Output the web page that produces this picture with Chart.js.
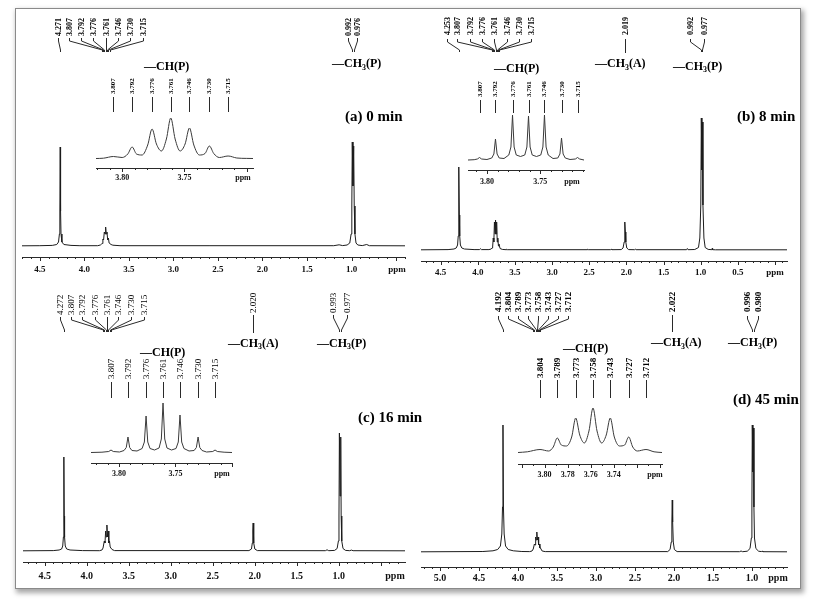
<!DOCTYPE html>
<html><head><meta charset="utf-8">
<script src="https://cdn.jsdelivr.net/npm/chart.js@4/dist/chart.umd.min.js"></script>
<style>
html,body{margin:0;padding:0;background:#fff;width:813px;height:602px;overflow:hidden}
#frame{position:absolute;left:15px;top:8px;width:784px;height:579px;border:1px solid #8a8a8a;box-shadow:2px 3px 5px 1px rgba(0,0,0,0.35);background:#fff}
canvas{position:absolute;left:0;top:0}
</style></head><body>
<div id="frame"></div>
<canvas id="mA" width="813" height="602"></canvas>
<canvas id="mB" width="813" height="602"></canvas>
<canvas id="mC" width="813" height="602"></canvas>
<canvas id="mD" width="813" height="602"></canvas>
<canvas id="iA" width="813" height="602"></canvas>
<canvas id="iB" width="813" height="602"></canvas>
<canvas id="iC" width="813" height="602"></canvas>
<canvas id="iD" width="813" height="602"></canvas>
<script>
// ================= DATA =================
const panelTitles = ['(a) 0 min', '(b) 8 min', '(c) 16 min', '(d) 45 min'];
const ch2Shift = [4.271, 4.253, 4.272, 4.192];
const chShiftsA = [3.807, 3.792, 3.776, 3.761, 3.746, 3.730, 3.715];
const chShiftsB = [3.807, 3.792, 3.776, 3.761, 3.746, 3.730, 3.715];
const chShiftsC = [3.807, 3.792, 3.776, 3.761, 3.746, 3.730, 3.715];
const chShiftsD = [3.804, 3.789, 3.773, 3.758, 3.743, 3.727, 3.712];
const acetoneShift = [null, 2.019, 2.020, 2.022];
const ch3ShiftsA = [0.992, 0.976];
const ch3ShiftsB = [0.992, 0.977];
const ch3ShiftsC = [0.993, 0.977];
const ch3ShiftsD = [0.996, 0.980];
const labelCH = [['—CH(P)', 0]];
const labelCH3A = [['—CH', 0], ['3', 1], ['(A)', 0]];
const labelCH3P = [['—CH', 0], ['3', 1], ['(P)', 0]];

// main spectra (ppm, intensity)
const specA_ppm = [4.70,4.50,4.36,4.31,4.29,4.28,4.275,4.271,4.267,4.262,4.252,4.23,4.15,4.05,3.85,3.82,3.807,3.800,3.792,3.784,3.776,3.768,3.761,3.754,3.746,3.738,3.730,3.722,3.715,3.70,3.68,3.60,2.60,1.20,1.14,1.10,1.05,1.02,1.005,0.997,0.992,0.984,0.976,0.970,0.962,0.95,0.93,0.88,0.83,0.80,0.40];
const specA_int = [0.2,0.3,0.6,1.5,4,12,35,99,35,12,4,1.5,0.6,0.3,0.3,1,2,2.5,7,6,14,12,19,12,14,6,8,3,3,1.5,0.8,0.3,0.3,0.3,1.2,0.4,1,3,12,40,104,60,100,40,12,3,1,0.4,1.5,0.3,0.2];

const specB_ppm = [4.764,4.40,4.32,4.29,4.272,4.263,4.258,4.253,4.248,4.243,4.234,4.215,4.18,4.05,3.975,3.965,3.95,3.85,3.82,3.807,3.800,3.792,3.784,3.776,3.768,3.761,3.754,3.746,3.738,3.730,3.722,3.715,3.70,3.67,3.62,3.61,3.60,2.53,2.52,2.51,2.215,2.205,2.195,2.07,2.045,2.030,2.024,2.019,2.014,2.008,1.995,1.97,1.89,1.88,1.87,1.19,1.18,1.17,1.08,1.03,1.012,0.999,0.992,0.984,0.977,0.970,0.957,0.94,0.90,0.85,0.845,0.84,0.80,-0.161];
const specB_int = [0.2,0.4,1,2,5,14,35,83,35,14,5,2,1,0.4,0.4,1.3,0.4,0.4,1,2,3,12,8,28,16,30,16,28,8,12,4,6,1.5,0.6,0.3,0.9,0.3,0.3,0.9,0.3,0.3,0.8,0.3,0.4,2,8,18,28,18,8,2,0.4,0.3,0.8,0.3,0.3,1.5,0.3,0.5,2.5,12,45,132,80,128,45,12,2.5,0.6,0.3,1.6,0.3,0.2,0.2];

const specC_ppm = [4.76,4.40,4.33,4.30,4.287,4.279,4.275,4.272,4.269,4.265,4.257,4.24,4.20,4.05,3.85,3.82,3.807,3.800,3.792,3.784,3.776,3.768,3.761,3.754,3.746,3.738,3.730,3.722,3.715,3.70,3.67,2.07,2.04,2.030,2.024,2.020,2.016,2.010,2.000,1.97,1.16,1.14,1.12,1.05,1.02,1.005,0.998,0.993,0.985,0.977,0.972,0.965,0.95,0.92,0.87,0.85,0.83,0.212];
const specC_int = [0.2,0.4,1,2,5,14,35,94,35,14,5,2,1,0.4,0.3,1,3,3,10,8,20,14,26,14,20,8,10,4,4,1.5,0.4,0.4,2,8,20,28,20,8,2,0.4,0.3,1.2,0.3,0.6,2.5,10,35,118,55,114,35,10,2.5,0.6,0.3,0.9,0.3,0.2];

const specD_ppm = [5.243,4.45,4.32,4.26,4.225,4.207,4.198,4.192,4.186,4.177,4.159,4.125,4.06,3.95,3.85,3.82,3.804,3.797,3.789,3.781,3.773,3.766,3.758,3.751,3.743,3.735,3.727,3.719,3.712,3.69,3.65,2.08,2.05,2.035,2.027,2.022,2.017,2.009,1.995,1.96,1.16,1.14,1.12,1.06,1.025,1.008,1.001,0.996,0.988,0.980,0.975,0.968,0.95,0.915,0.88,0.87,0.86,0.551];
const specD_int = [0.2,0.5,1.2,2.5,6,18,45,127,45,18,6,2.5,1.2,0.5,0.4,1,3,3,8,7,15,12,20,12,15,7,8,4,4,1,0.4,0.4,2.5,10,30,52,30,10,2.5,0.4,0.3,1,0.3,0.8,3.5,14,45,127,80,124,45,14,3.5,0.8,0.4,1,0.3,0.2];

// inset (CH multiplet) spectra
const insetA_ppm = [3.821,3.815,3.807,3.800,3.7955,3.792,3.7885,3.784,3.7795,3.776,3.7725,3.7685,3.7645,3.761,3.7575,3.7535,3.7495,3.746,3.7425,3.738,3.7335,3.730,3.7265,3.722,3.715,3.708,3.700,3.695];
const insetA_int = [0.5,0.8,2.5,1.5,5,12,5,4,14,30,15,8,20,41,20,8,15,31,14,4,5.5,13,5.5,1.5,3,1,0.6,0.5];

const insetB_ppm = [3.8178,3.812,3.809,3.807,3.805,3.800,3.7955,3.7935,3.792,3.7905,3.7885,3.784,3.7795,3.7775,3.776,3.7745,3.7725,3.7685,3.7645,3.7625,3.761,3.7595,3.7575,3.7535,3.7495,3.7475,3.746,3.7445,3.7425,3.738,3.7335,3.7315,3.730,3.7285,3.7265,3.722,3.717,3.715,3.713,3.7089];
const insetB_int = [1,1.3,2,3.5,2,1.5,3,7,22,7,3,2.5,6,14,46,14,6,4.5,6,14,45,14,6,4.5,6,14,46,14,6,2.5,3,7,23,7,3,1.5,2,3.5,2,1];

const insetC_ppm = [3.8247,3.815,3.809,3.807,3.805,3.7995,3.7955,3.7935,3.792,3.7905,3.7885,3.784,3.7795,3.7775,3.776,3.7745,3.7725,3.7685,3.7645,3.7625,3.761,3.7595,3.7575,3.7535,3.7495,3.7475,3.746,3.7445,3.7425,3.738,3.7335,3.7315,3.730,3.7285,3.7265,3.7225,3.717,3.715,3.713,3.707,3.700];
const insetC_int = [0.5,0.8,1.5,3,1.5,1,2.5,5.5,16,5.5,2.5,2,4.5,11,37,11,4.5,3,5,14,50,14,5,3,4.5,11,38,11,4.5,2,2.5,5.5,16,5.5,2.5,1,1.5,3,1.5,0.8,0.5];

const insetD_ppm = [3.8231,3.815,3.804,3.7965,3.7925,3.789,3.7855,3.781,3.7765,3.773,3.7695,3.7655,3.7615,3.758,3.7545,3.7505,3.7465,3.743,3.7395,3.735,3.7305,3.727,3.7235,3.7195,3.712,3.705,3.6981];
const insetD_int = [0.5,1.2,3.5,2,6,15,8,7,16,35,18,10,22,45,22,10,18,35,16,7,8,16,6,2,3.5,1.2,0.5];

// ================= LAYOUT =================
const W = 813, H = 602;
const SERIF = '"Liberation Serif", "Times New Roman", serif';
const REG = {};
function mult(v, step) { const r = v / step; return Math.abs(r - Math.round(r)) < 1e-6; }

function drawRich(ctx, t) {
  let x = t.x;
  ctx.fillStyle = '#000';
  ctx.textAlign = 'left'; ctx.textBaseline = 'middle';
  t.parts.forEach(([s, sub]) => {
    const size = sub ? t.size * 0.66 : t.size;
    ctx.font = 'bold ' + size + 'px ' + SERIF;
    ctx.fillText(s, x, t.y + (sub ? t.size * 0.3 : 0));
    x += ctx.measureText(s).width;
  });
}

const nmrPlugin = {
  id: 'nmr',
  afterDraw(chart) {
    const R = REG[chart.canvas.id]; if (!R) return;
    const L = R.L, ann = R.ann;
    const ctx = chart.ctx, xs = chart.scales.x;
    const px = v => xs.getPixelForValue(v);
    ctx.save();
    ctx.strokeStyle = '#2a2a2a'; ctx.lineWidth = 1;
    const ay = Math.round(xs.top);
    ctx.beginPath();
    xs.ticks.forEach(t => {
      const x = Math.round(px(t.value)) + 0.5;
      const len = mult(t.value, L.labelStep) ? 4 : 2;
      ctx.moveTo(x, ay); ctx.lineTo(x, ay + len);
    });
    ctx.stroke();
    ctx.fillStyle = '#111';
    ctx.font = 'bold ' + L.font + 'px ' + SERIF;
    ctx.textAlign = 'center'; ctx.textBaseline = 'middle';
    ctx.fillText('ppm', L.ppmX, xs.top + L.pad + 0.6 * L.font);
    (ann.groups || []).forEach(g => {
      g.ppms.forEach((p, i) => {
        const tx = Math.round(px(p)) + 0.5;
        const lx = g.labelXs ? Math.round(g.labelXs[i]) + 0.5 : tx;
        ctx.save();
        ctx.translate(lx, g.textBottom); ctx.rotate(-Math.PI / 2);
        ctx.font = g.font; ctx.fillStyle = '#000';
        ctx.textAlign = 'left'; ctx.textBaseline = 'middle';
        ctx.fillText(p.toFixed(3), 0, 0);
        ctx.restore();
        ctx.beginPath();
        if (g.labelXs) {
          ctx.moveTo(lx, g.y0); ctx.lineTo(lx, g.y0 + 3); ctx.lineTo(tx, g.y1 - 2); ctx.lineTo(tx, g.y1);
        } else {
          ctx.moveTo(tx, g.y0); ctx.lineTo(tx, g.y1);
        }
        ctx.stroke();
      });
    });
    (ann.texts || []).forEach(t => drawRich(ctx, t));
    ctx.restore();
  }
};

function makeSpectrumChart(id, ppm, inten, L, ann) {
  const n = Math.min(ppm.length, inten.length);
  const pts = [];
  for (let i = 0; i < n; i++) pts.push({x: ppm[i], y: inten[i]});
  REG[id] = {L, ann};
  return new Chart(document.getElementById(id), {
    type: 'line',
    data: {datasets: [{data: pts, borderColor: L.color, borderWidth: 1, pointRadius: 0, pointHoverRadius: 0,
      fill: false, tension: 0, cubicInterpolationMode: L.smooth ? 'monotone' : 'default'}]},
    options: {
      responsive: false, maintainAspectRatio: false, animation: false, events: [], devicePixelRatio: 1,
      layout: {padding: {left: L.left, right: W - L.right, top: L.top, bottom: H - L.axisY - L.axh}},
      plugins: {legend: {display: false}, tooltip: {enabled: false}, title: {display: false}},
      scales: {
        x: {type: 'linear', reverse: true, min: L.xmin, max: L.xmax, offset: false,
          afterFit(s) { s.height = L.axh; },
          border: {display: true, color: '#2a2a2a', width: 1},
          grid: {display: false, drawTicks: false},
          ticks: {stepSize: L.step, includeBounds: false, autoSkip: false, maxRotation: 0, minRotation: 0,
            padding: L.pad, color: '#111', font: {family: SERIF, weight: 'bold', size: L.font},
            callback(v) { return (mult(v, L.labelStep) && v >= L.labelMin && v <= L.labelMax) ? v.toFixed(L.dec) : ''; }}},
        y: {display: false, min: L.ymin, max: L.ymax}
      }
    },
    plugins: [nmrPlugin]
  });
}

const B8 = 'bold 8px ' + SERIF, B7 = 'bold 7px ' + SERIF, R9 = '9px ' + SERIF, B9 = 'bold 9px ' + SERIF;
const mainBase = {axh: 20, step: 0.1, labelStep: 0.5, dec: 1, color: '#1c1c1c'};
const insetBase = {axh: 14, step: 0.01, labelStep: 0.05, labelMin: 3.74, labelMax: 3.81, dec: 2, font: 8, color: '#3a3a3a'};

// Panel (a)
makeSpectrumChart('mA', specA_ppm, specA_int,
  Object.assign({}, mainBase, {left: 22, right: 405, top: 10, axisY: 257, xmin: 0.40, xmax: 4.70, ymin: -11, ymax: 236, labelMin: 0.75, labelMax: 4.6, font: 9, pad: 7, ppmX: 397}),
  {groups: [
    {ppms: [ch2Shift[0]].concat(chShiftsA), labelXs: [58, 69, 81, 93, 106, 118, 130, 143], textBottom: 36, y0: 38, y1: 52, font: B8},
    {ppms: ch3ShiftsA, labelXs: [348, 357], textBottom: 36, y0: 38, y1: 52, font: B8}],
   texts: [{parts: labelCH3P, x: 332, y: 64, size: 12}, {parts: [[panelTitles[0], 0]], x: 345, y: 117, size: 15}]});
makeSpectrumChart('iA', insetA_ppm, insetA_int,
  Object.assign({}, insetBase, {left: 96, right: 253, top: 55, axisY: 168, xmin: 3.695, xmax: 3.821, ymin: -9, ymax: 104, pad: 5, ppmX: 243, smooth: true}),
  {groups: [{ppms: chShiftsA, textBottom: 94, y0: 97, y1: 112, font: B7}],
   texts: [{parts: labelCH, x: 144, y: 67, size: 12}]});

// Panel (b)
makeSpectrumChart('mB', specB_ppm, specB_int,
  Object.assign({}, mainBase, {left: 421, right: 787, top: 10, axisY: 261, xmin: -0.161, xmax: 4.764, ymin: -11, ymax: 240, labelMin: 0.25, labelMax: 4.6, font: 9, pad: 6, ppmX: 775}),
  {groups: [
    {ppms: [ch2Shift[1]].concat(chShiftsB), labelXs: [447, 457, 470, 482, 494, 507, 519, 531], textBottom: 35, y0: 39, y1: 52, font: B8},
    {ppms: [acetoneShift[1]], textBottom: 35, y0: 39, y1: 53, font: B8},
    {ppms: ch3ShiftsB, labelXs: [690, 704], textBottom: 35, y0: 39, y1: 52, font: B8}],
   texts: [{parts: labelCH3A, x: 595, y: 64, size: 12}, {parts: labelCH3P, x: 673, y: 66.5, size: 12},
           {parts: [[panelTitles[1], 0]], x: 737, y: 117, size: 15}]});
makeSpectrumChart('iB', insetB_ppm, insetB_int,
  Object.assign({}, insetBase, {left: 468, right: 584, top: 55, axisY: 170, xmin: 3.7089, xmax: 3.8178, ymin: -9, ymax: 106, pad: 7, ppmX: 572}),
  {groups: [{ppms: chShiftsB, textBottom: 97, y0: 100, y1: 113, font: B7}],
   texts: [{parts: labelCH, x: 494, y: 68.5, size: 12}]});

// Panel (c)
makeSpectrumChart('mC', specC_ppm, specC_int,
  Object.assign({}, mainBase, {left: 23, right: 405, top: 285, axisY: 562, xmin: 0.212, xmax: 4.76, ymin: -11, ymax: 266, labelMin: 0.75, labelMax: 4.6, font: 10, pad: 8, ppmX: 395}),
  {groups: [
    {ppms: [ch2Shift[2]].concat(chShiftsC), labelXs: [60, 71, 82, 95, 107, 118, 131, 144], textBottom: 315, y0: 317, y1: 332, font: R9},
    {ppms: [acetoneShift[2]], textBottom: 313, y0: 315, y1: 333, font: R9},
    {ppms: ch3ShiftsC, labelXs: [333, 347], textBottom: 313, y0: 315, y1: 332, font: R9}],
   texts: [{parts: labelCH3A, x: 228, y: 343.5, size: 12}, {parts: labelCH3P, x: 317, y: 343.5, size: 12},
           {parts: [[panelTitles[2], 0]], x: 358, y: 418, size: 15}]});
makeSpectrumChart('iC', insetC_ppm, insetC_int,
  Object.assign({}, insetBase, {left: 91, right: 232, top: 340, axisY: 463, xmin: 3.700, xmax: 3.8247, ymin: -10, ymax: 113, pad: 6, ppmX: 222}),
  {groups: [{ppms: chShiftsC, textBottom: 379, y0: 382, y1: 398, font: R9}],
   texts: [{parts: labelCH, x: 140, y: 352.5, size: 12}]});

// Panel (d)
makeSpectrumChart('mD', specD_ppm, specD_int,
  Object.assign({}, mainBase, {left: 421, right: 787, top: 285, axisY: 567, xmin: 0.551, xmax: 5.243, ymin: -15, ymax: 267, labelMin: 0.9, labelMax: 5.1, font: 10, pad: 5, ppmX: 778}),
  {groups: [
    {ppms: [ch2Shift[3]].concat(chShiftsD), labelXs: [498, 508, 518, 528, 538, 548, 558, 568], textBottom: 312, y0: 316, y1: 332, font: B9},
    {ppms: [acetoneShift[3]], textBottom: 312, y0: 315, y1: 332, font: B9},
    {ppms: ch3ShiftsD, labelXs: [747, 758], textBottom: 312, y0: 316, y1: 332, font: B9}],
   texts: [{parts: labelCH3A, x: 651, y: 343, size: 12}, {parts: labelCH3P, x: 728, y: 343, size: 12},
           {parts: [[panelTitles[3], 0]], x: 733, y: 400, size: 15}]});
makeSpectrumChart('iD', insetD_ppm, insetD_int,
  Object.assign({}, insetBase, {left: 518, right: 662, top: 336, axisY: 464, xmin: 3.6981, xmax: 3.8231, ymin: -11, ymax: 117, labelStep: 0.02, labelMin: 3.735, labelMax: 3.81, pad: 6, ppmX: 655, smooth: true}),
  {groups: [{ppms: chShiftsD, textBottom: 378, y0: 380, y1: 398, font: B9}],
   texts: [{parts: labelCH, x: 563, y: 349, size: 12}]});
</script>
</body></html>
